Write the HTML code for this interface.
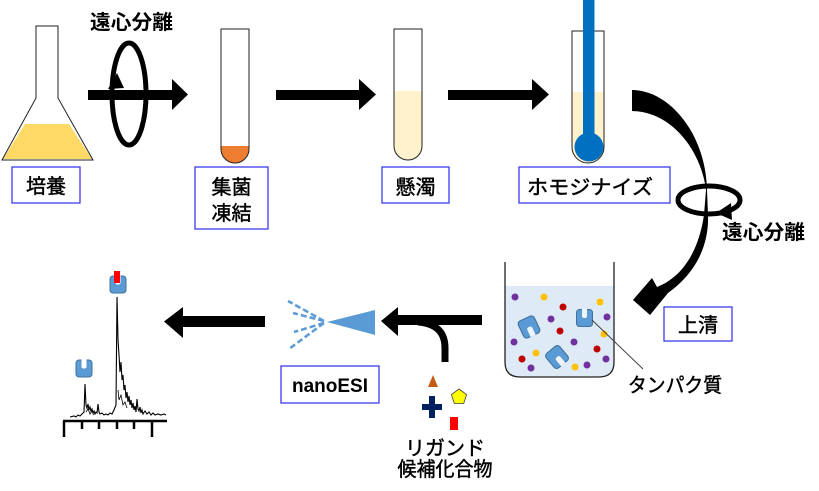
<!DOCTYPE html>
<html><head><meta charset="utf-8">
<style>
html,body{margin:0;padding:0;background:#fff;}
svg{display:block;}
text{font-family:"Liberation Sans","Noto Sans CJK JP",sans-serif;fill:#000;}
.jp{font-family:"Liberation Sans","Noto Sans CJK JP",sans-serif;font-size:20px;stroke:#000;stroke-width:0.45px;}
</style></head>
<body>
<svg width="819" height="491" viewBox="0 0 819 491" xmlns="http://www.w3.org/2000/svg">
<defs>
  <clipPath id="t2"><path d="M221,29 L249,29 L249,149 A14,14 0 0 1 221,149 Z"/></clipPath>
  <clipPath id="t3"><path d="M394,29 L422,29 L422,146 A14,14 0 0 1 394,146 Z"/></clipPath>
  <clipPath id="t4"><path d="M572,31 L604,31 L604,147 A16,16 0 0 1 572,147 Z"/></clipPath>
  <g id="prot">
    <rect x="-8" y="-8.5" width="16" height="17" rx="3" fill="#5B9BD5" stroke="#41719C" stroke-width="1"/>
    <path d="M-2.5,-9 L2.5,-9 L2.5,-2 Q2.5,0 0.5,0 L-0.5,0 Q-2.5,0 -2.5,-2 Z" fill="#fff"/>
  </g>
  <g id="protb">
    <rect x="-8" y="-8.5" width="16" height="17" rx="3" fill="#5B9BD5" stroke="#41719C" stroke-width="1"/>
    <path d="M-2.5,-9 L2.5,-9 L2.5,-2 Q2.5,0 0.5,0 L-0.5,0 Q-2.5,0 -2.5,-2 Z" fill="#EEF4FB"/>
  </g>
</defs>

<!-- Flask -->
<polygon points="25,124 69,124 92,159 3,159" fill="#FFD966"/>
<polygon points="36,26 58,26 58,98 93,160 2,160 36,98" fill="none" stroke="#222" stroke-width="1"/>

<!-- top-left centrifuge -->
<text x="90" y="29" font-size="20" font-weight="bold" textLength="83" lengthAdjust="spacingAndGlyphs">遠心分離</text>
<polygon points="88,90 172,90 172,79 188,94.5 172,110 172,100 88,100" fill="#000"/>
<ellipse cx="129" cy="94" rx="17" ry="51" fill="none" stroke="#000" stroke-width="5"/>
<polygon points="108,89 124,88 117,73" fill="#000"/>

<!-- Tube 2 -->
<g clip-path="url(#t2)"><rect x="215" y="146" width="40" height="30" fill="#ED7D31"/></g>
<path d="M221,29 L249,29 L249,149 A14,14 0 0 1 221,149 Z" fill="none" stroke="#222" stroke-width="1"/>

<!-- Arrow 2 -->
<polygon points="276,90 359,90 359,79 376,94.5 359,110 359,100 276,100" fill="#000"/>

<!-- Tube 3 -->
<g clip-path="url(#t3)"><rect x="390" y="91" width="40" height="80" fill="#FFF2CC"/></g>
<path d="M394,29 L422,29 L422,146 A14,14 0 0 1 394,146 Z" fill="none" stroke="#222" stroke-width="1"/>

<!-- Arrow 3 -->
<polygon points="448,90 532,90 532,79 549,94.5 532,110 532,100 448,100" fill="#000"/>

<!-- Tube 4 with homogenizer -->
<g clip-path="url(#t4)"><rect x="568" y="92" width="40" height="80" fill="#FFF2CC"/></g>
<path d="M572,31 L604,31 L604,147 A16,16 0 0 1 572,147 Z" fill="none" stroke="#222" stroke-width="1"/>
<rect x="583" y="0" width="11.5" height="140" fill="#0070C0"/>
<circle cx="589" cy="147" r="14.5" fill="#0070C0"/>

<!-- Boxes top row -->
<rect x="12" y="167" width="68" height="36" fill="#fff" stroke="#3B3BEF" stroke-width="1.3"/>
<text class="jp" x="46" y="193" text-anchor="middle">培養</text>

<rect x="195" y="167" width="73" height="62" fill="#fff" stroke="#3B3BEF" stroke-width="1.3"/>
<text class="jp" x="231.5" y="194" text-anchor="middle">集菌</text>
<text class="jp" x="231.5" y="220" text-anchor="middle">凍結</text>

<rect x="382" y="167" width="67" height="36" fill="#fff" stroke="#3B3BEF" stroke-width="1.3"/>
<text class="jp" x="415.5" y="194" text-anchor="middle">懸濁</text>

<rect x="519" y="167" width="151" height="36" fill="#fff" stroke="#3B3BEF" stroke-width="1.3"/>
<text class="jp" x="527" y="194" textLength="126" lengthAdjust="spacingAndGlyphs">ホモジナイズ</text>

<!-- Big curved arrow -->
<path d="M632,90 C670,90 706,135 707,190 L708,215 C709,240 700,270 668,293 L650,315 L633,300 L652,278 L657,287 C680,278 698,255 704,215 L706,190 C702,155 675,112 632,111 Z" fill="#000"/>
<ellipse cx="709" cy="200" rx="31" ry="14" fill="none" stroke="#000" stroke-width="5"/>
<polygon points="716,213 731,203 732,220" fill="#000"/>
<text x="722" y="239" font-size="20" font-weight="bold" textLength="83" lengthAdjust="spacingAndGlyphs">遠心分離</text>

<!-- Beaker -->
<path d="M505,286 L505,362 Q505,377 520,377 L599,377 Q614,377 614,362 L614,286 Z" fill="#DEEBF7"/>
<path d="M505,262 L505,362 Q505,377 520,377 L599,377 Q614,377 614,362 L614,262" fill="none" stroke="#222" stroke-width="1.3"/>
<g fill="#7030A0">
  <circle cx="515" cy="297" r="3.5"/><circle cx="607" cy="317" r="3.5"/><circle cx="551" cy="319" r="3.5"/>
  <circle cx="514" cy="342" r="3.5"/><circle cx="574" cy="342" r="3.5"/><circle cx="606" cy="359" r="3.5"/>
  <circle cx="531" cy="368" r="3.5"/><circle cx="587" cy="365" r="3.5"/>
</g>
<g fill="#FFC000">
  <circle cx="544" cy="297" r="3.5"/><circle cx="600" cy="302" r="3.5"/><circle cx="604" cy="334" r="3.5"/>
  <circle cx="536" cy="353" r="3.5"/><circle cx="575" cy="367" r="3.5"/>
</g>
<g fill="#C00000">
  <circle cx="563" cy="307" r="3.5"/><circle cx="560" cy="331" r="3.5"/><circle cx="597" cy="349" r="3.5"/>
  <circle cx="522" cy="359" r="3.5"/>
</g>
<use href="#protb" transform="translate(529,327) rotate(155) scale(1.1)"/>
<use href="#protb" transform="translate(557,357) rotate(140) scale(1.1)"/>
<use href="#protb" transform="translate(584.5,318)"/>
<line x1="592" y1="320" x2="643" y2="369" stroke="#404040" stroke-width="1"/>
<text class="jp" x="628" y="392" textLength="94" lengthAdjust="spacingAndGlyphs">タンパク質</text>

<rect x="664" y="307" width="68" height="34" fill="#fff" stroke="#3B3BEF" stroke-width="1.3"/>
<text class="jp" x="698" y="332" text-anchor="middle">上清</text>

<!-- Middle arrow with ligand branch -->
<path d="M445,362 L445,348 Q445,324 418,322" fill="none" stroke="#000" stroke-width="7"/>
<polygon points="482,315 398,315 398,307 381,321 398,336 398,325 482,325" fill="#000"/>

<!-- Ligands -->
<polygon points="433,375 428,387 438,387" fill="#C55A11"/>
<polygon points="459,389 466.6,394.5 463.7,403.5 454.3,403.5 451.4,394.5" fill="#FFFF00" stroke="#404040" stroke-width="0.8"/>
<rect x="422" y="404" width="20" height="6" fill="#002060"/>
<rect x="429" y="396" width="6" height="22" fill="#002060"/>
<rect x="450" y="417" width="8" height="13" fill="#FF0000"/>
<text class="jp" x="445" y="455" text-anchor="middle" font-size="19">リガンド</text>
<text class="jp" x="445" y="476" text-anchor="middle" textLength="95" lengthAdjust="spacingAndGlyphs">候補化合物</text>

<!-- nanoESI -->
<polygon points="327,322 375,310 375,335" fill="#5B9BD5"/>
<g stroke="#5B9BD5" stroke-width="2.5" stroke-dasharray="6,3" fill="none">
  <line x1="324" y1="321" x2="288" y2="301"/>
  <line x1="324" y1="321" x2="293" y2="313"/>
  <line x1="324" y1="323" x2="294" y2="332"/>
  <line x1="324" y1="323" x2="289" y2="349"/>
</g>
<rect x="281" y="366" width="98" height="37" fill="#fff" stroke="#3B3BEF" stroke-width="1.3"/>
<text x="330" y="392" text-anchor="middle" font-size="19" font-weight="bold">nanoESI</text>

<!-- Left arrow -->
<polygon points="265,316 183,316 183,307 164,321.5 183,338 183,327 265,327" fill="#000"/>

<!-- Spectrum -->
<path d="M70,417 L74,416 L76,417 L78,415 L80,416 L82,414 L84,412 L85,384 L86,405 L87,408 L88,404 L89,410 L90,407 L91,411 L92,409 L93,413 L94,411 L95,414 L96,412 L97,413 L98,404 L99,412 L100,414 L102,413 L104,415 L106,414 L108,415 L110,413 L112,414 L114,410 L116,405 L117,297 L118,340 L119,355 L120,372 L121,362 L122,380 L123,375 L124,390 L125,385 L126,398 L127,392 L128,402 L129,396 L130,405 L131,400 L132,408 L133,403 L134,410 L135,406 L136,412 L137,399 L138,409 L139,411 L140,407 L141,413 L142,410 L143,414 L145,411 L147,414 L149,412 L151,415 L153,413 L155,415 L158,414 L161,415 L164,414 L166,415" fill="none" stroke="#000" stroke-width="1.1"/>
<path d="M86,412 L88,409 L90,414 L92,411 L94,415 M118,390 L119,400 L121,395 L123,405 L125,402 L127,408" fill="none" stroke="#000" stroke-width="0.8"/>
<line x1="63" y1="421" x2="167" y2="421" stroke="#000" stroke-width="2.5"/>
<g stroke="#000" stroke-width="2.5">
  <line x1="64" y1="421" x2="64" y2="437"/>
  <line x1="82" y1="421" x2="82" y2="429"/>
  <line x1="99" y1="421" x2="99" y2="429"/>
  <line x1="117" y1="421" x2="117" y2="429"/>
  <line x1="134" y1="421" x2="134" y2="429"/>
  <line x1="152" y1="421" x2="152" y2="437"/>
</g>
<use href="#prot" transform="translate(118,284.5)"/>
<rect x="114" y="271" width="6" height="12" fill="#FF0000"/>
<use href="#prot" transform="translate(84,368.5)"/>
</svg>
</body></html>
